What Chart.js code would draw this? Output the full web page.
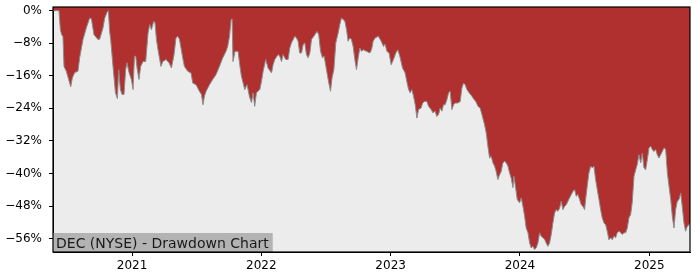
<!DOCTYPE html>
<html>
<head>
<meta charset="utf-8">
<title>DEC (NYSE) - Drawdown Chart</title>
<script src="https://cdn.jsdelivr.net/npm/chart.js@4.4.1/dist/chart.umd.min.js"></script>
<style>
  html, body { margin: 0; padding: 0; background: #ffffff; }
  canvas { display: block; }
</style>
</head>
<body>
<canvas id="ddChart" width="700" height="280"></canvas>
<script>
// Fechas como año decimal y drawdown en %
const years = [
  2020.389, 2020.435, 2020.446, 2020.456, 2020.466, 2020.474, 2020.492, 2020.510, 2020.526, 2020.539,
  2020.557, 2020.582, 2020.595, 2020.621, 2020.647, 2020.673, 2020.686, 2020.706, 2020.737, 2020.750,
  2020.776, 2020.789, 2020.807, 2020.817, 2020.827, 2020.835, 2020.853, 2020.872, 2020.887, 2020.897,
  2020.910, 2020.923, 2020.938, 2020.951, 2020.961, 2020.977, 2020.995, 2021.008, 2021.019, 2021.029,
  2021.039, 2021.054, 2021.067, 2021.085, 2021.106, 2021.124, 2021.137, 2021.150, 2021.168, 2021.178,
  2021.189, 2021.201, 2021.212, 2021.224, 2021.238, 2021.263, 2021.286, 2021.305, 2021.325, 2021.340,
  2021.354, 2021.367, 2021.379, 2021.392, 2021.405, 2021.431, 2021.456, 2021.470, 2021.495, 2021.521,
  2021.537, 2021.549, 2021.560, 2021.573, 2021.599, 2021.624, 2021.650, 2021.676, 2021.702, 2021.727,
  2021.740, 2021.754, 2021.766, 2021.774, 2021.781, 2021.797, 2021.820, 2021.833, 2021.846, 2021.872,
  2021.890, 2021.908, 2021.924, 2021.936, 2021.949, 2021.962, 2021.988, 2022.001, 2022.014, 2022.034,
  2022.052, 2022.079, 2022.091, 2022.104, 2022.130, 2022.143, 2022.156, 2022.168, 2022.189, 2022.207,
  2022.220, 2022.233, 2022.259, 2022.272, 2022.284, 2022.297, 2022.311, 2022.323, 2022.336, 2022.349,
  2022.362, 2022.375, 2022.388, 2022.414, 2022.431, 2022.444, 2022.458, 2022.473, 2022.486, 2022.504,
  2022.522, 2022.535, 2022.547, 2022.561, 2022.576, 2022.594, 2022.607, 2022.620, 2022.633, 2022.646,
  2022.659, 2022.671, 2022.684, 2022.697, 2022.710, 2022.723, 2022.736, 2022.749, 2022.762, 2022.775,
  2022.787, 2022.814, 2022.839, 2022.852, 2022.865, 2022.880, 2022.905, 2022.927, 2022.945, 2022.957,
  2022.971, 2022.988, 2023.004, 2023.022, 2023.040, 2023.056, 2023.074, 2023.092, 2023.112, 2023.125,
  2023.139, 2023.151, 2023.164, 2023.177, 2023.190, 2023.203, 2023.216, 2023.236, 2023.247, 2023.262,
  2023.280, 2023.293, 2023.313, 2023.327, 2023.344, 2023.357, 2023.371, 2023.383, 2023.396, 2023.409,
  2023.422, 2023.435, 2023.448, 2023.460, 2023.474, 2023.487, 2023.499, 2023.520, 2023.538, 2023.551,
  2023.564, 2023.576, 2023.590, 2023.607, 2023.628, 2023.646, 2023.659, 2023.675, 2023.692, 2023.713,
  2023.726, 2023.739, 2023.752, 2023.765, 2023.778, 2023.791, 2023.804, 2023.816, 2023.829, 2023.843,
  2023.855, 2023.868, 2023.881, 2023.894, 2023.907, 2023.920, 2023.932, 2023.946, 2023.953, 2023.963,
  2023.979, 2023.997, 2024.010, 2024.023, 2024.036, 2024.048, 2024.062, 2024.075, 2024.087, 2024.100,
  2024.113, 2024.126, 2024.139, 2024.152, 2024.164, 2024.178, 2024.191, 2024.203, 2024.216, 2024.229,
  2024.242, 2024.255, 2024.268, 2024.281, 2024.294, 2024.307, 2024.319, 2024.332, 2024.345, 2024.358,
  2024.371, 2024.384, 2024.397, 2024.410, 2024.423, 2024.435, 2024.448, 2024.461, 2024.474, 2024.487,
  2024.500, 2024.508, 2024.520, 2024.533, 2024.547, 2024.559, 2024.572, 2024.585, 2024.598, 2024.611,
  2024.624, 2024.636, 2024.650, 2024.663, 2024.675, 2024.688, 2024.701, 2024.714, 2024.727, 2024.740,
  2024.752, 2024.766, 2024.779, 2024.791, 2024.804, 2024.817, 2024.830, 2024.843, 2024.856, 2024.868,
  2024.882, 2024.895, 2024.907, 2024.920, 2024.934, 2024.946, 2024.959, 2024.972, 2024.985, 2024.998,
  2025.011, 2025.023, 2025.036, 2025.050, 2025.062, 2025.075, 2025.088, 2025.101, 2025.114, 2025.127,
  2025.140, 2025.153, 2025.166, 2025.178, 2025.191, 2025.204, 2025.217, 2025.230, 2025.243, 2025.255,
  2025.268, 2025.281, 2025.294, 2025.307, 2025.315
];

const drawdown = [
  0, 0, -4.7, -5.9, -6.4, -13.7, -14.9, -16.9, -18.7, -16.5,
  -15.2, -14.9, -11.6, -7.1, -4.2, -1.8, -2.0, -5.9, -7.1, -7.0,
  -4.2, -1.8, -0.4, 0, -5.1, -7.1, -13.7, -20.2, -21.6, -14.5,
  -19.4, -20.6, -20.6, -14.5, -12.8, -15.2, -16.9, -19.4, -11.2, -11.2,
  -14.1, -16.9, -13.7, -12.5, -12.5, -5.5, -3.4, -4.7, -2.6, -3.0,
  -7.1, -9.6, -11.6, -13.7, -12.5, -12.0, -12.8, -14.1, -10.8, -6.7,
  -6.3, -7.1, -9.2, -11.6, -13.7, -14.9, -15.3, -17.8, -18.2, -19.8,
  -20.6, -23.1, -21.0, -19.8, -18.2, -16.9, -15.7, -13.7, -11.6, -10.0,
  -8.8, -6.3, -2.2, -2.0, -12.5, -10.0, -10.0, -13.3, -16.1, -19.4,
  -18.2, -21.1, -22.6, -20.2, -23.5, -20.2, -19.4, -17.4, -14.9, -12.0,
  -14.1, -15.3, -13.3, -12.0, -10.8, -11.2, -12.5, -10.8, -12.0, -12.0,
  -9.2, -7.9, -6.3, -6.7, -7.5, -10.4, -10.4, -8.4, -7.9, -10.8,
  -11.6, -10.4, -7.1, -5.9, -5.1, -5.9, -10.0, -11.6, -11.2, -14.5,
  -17.8, -19.8, -16.5, -14.5, -7.9, -5.5, -3.4, -1.8, -2.2, -2.6,
  -4.7, -7.5, -6.7, -7.1, -8.8, -12.0, -14.5, -11.6, -9.2, -10.0,
  -9.6, -10.0, -10.4, -9.6, -7.5, -6.7, -6.3, -7.5, -8.8, -8.2,
  -10.0, -10.4, -13.3, -12.0, -10.4, -9.6, -11.6, -14.1, -15.3, -17.4,
  -19.4, -20.2, -19.4, -21.0, -23.1, -26.4, -24.3, -23.9, -22.7, -22.3,
  -22.3, -23.5, -24.3, -25.1, -24.7, -26.0, -25.5, -23.9, -24.7, -23.1,
  -23.1, -21.9, -20.2, -19.8, -24.3, -23.1, -22.7, -22.7, -22.3, -19.0,
  -17.8, -18.2, -19.4, -20.2, -21.0, -21.9, -22.3, -23.5, -23.9, -26.4,
  -28.0, -30.0, -33.3, -36.2, -35.8, -37.4, -38.2, -39.5, -41.5, -40.3,
  -39.5, -37.4, -37.0, -37.4, -38.2, -39.9, -41.1, -43.5, -40.7, -42.7,
  -46.4, -47.2, -46.0, -48.1, -50.5, -53.4, -54.6, -57.1, -58.3, -57.9,
  -58.7, -58.3, -57.1, -54.6, -55.4, -55.8, -56.2, -57.1, -57.9, -57.1,
  -55.0, -52.1, -49.7, -48.9, -49.3, -48.5, -46.8, -48.9, -48.1, -47.7,
  -46.8, -46.0, -45.2, -44.4, -44.0, -45.6, -45.2, -46.4, -47.7, -48.1,
  -48.9, -46.4, -43.2, -39.9, -38.2, -38.6, -38.2, -41.5, -44.0, -46.4,
  -48.9, -50.9, -52.2, -52.6, -54.2, -56.3, -55.8, -56.3, -55.4, -55.8,
  -54.6, -54.2, -54.6, -55.0, -54.6, -54.6, -53.4, -50.9, -50.1, -47.2,
  -40.7, -39.1, -37.8, -35.4, -37.4, -35.0, -38.6, -39.1, -36.6, -33.7,
  -33.3, -34.1, -34.6, -34.1, -35.4, -36.2, -35.4, -34.6, -33.7, -34.1,
  -39.9, -43.2, -46.4, -50.5, -53.4, -48.9, -46.8, -46.4, -44.8, -48.1,
  -52.1, -54.2, -53.0, -52.6, -52.1
];

const yearTicks = [2021, 2022, 2023, 2024, 2025];
const pctTicks = [-56, -48, -40, -32, -24, -16, -8, 0];
const chartTitle = 'DEC (NYSE) - Drawdown Chart';

const FONT = 'DejaVu Sans';

// fondo gris del área, marco y etiqueta
const framePlugin = {
    id: 'frame',
    beforeDraw(chart) {
        const a = chart.chartArea;
        const ctx = chart.ctx;
        ctx.save();
        ctx.fillStyle = '#ececec';
        ctx.fillRect(a.left, a.top, a.right - a.left, a.bottom - a.top);
        ctx.restore();
    },
    afterDraw(chart) {
        const a = chart.chartArea;
        const ctx = chart.ctx;
        ctx.save();
        // etiqueta abajo a la izquierda
        ctx.font = '14px "' + FONT + '"';
        const w = ctx.measureText(chartTitle).width;
        ctx.fillStyle = '#b3b3b3';
        ctx.fillRect(a.left, a.bottom - 19, w + 7, 19);
        ctx.fillStyle = '#1a1a1a';
        ctx.textBaseline = 'alphabetic';
        ctx.fillText(chartTitle, a.left + 3, a.bottom - 4.5);
        // marco
        ctx.strokeStyle = '#000000';
        ctx.lineWidth = 1.2;
        ctx.strokeRect(a.left, a.top, a.right - a.left, a.bottom - a.top);
        ctx.restore();
    }
};

new Chart(document.getElementById('ddChart'), {
    type: 'line',
    data: {
        datasets: [{
            data: years.map((y, i) => ({ x: y, y: drawdown[i] })),
            borderColor: '#8c8c8c',
            borderWidth: 1,
            backgroundColor: '#b03030',
            fill: 'end',
            pointRadius: 0,
            tension: 0
        }]
    },
    options: {
        responsive: false,
        animation: false,
        layout: { padding: { top: 7, right: 10, left: 0, bottom: 0 } },
        plugins: {
            legend: { display: false },
            tooltip: { enabled: false }
        },
        scales: {
            x: {
                type: 'linear',
                min: 2020.389,
                max: 2025.315,
                afterBuildTicks: s => { s.ticks = yearTicks.map(v => ({ value: v })); },
                afterFit: s => {
                    s.height = 28;
                    s.paddingLeft = 0;
                    s.paddingRight = 0;
                },
                grid: { drawOnChartArea: false, drawTicks: true, tickLength: 4, color: '#000000' },
                border: { display: true, color: '#000000' },
                ticks: {
                    color: '#000000',
                    padding: 3,
                    maxRotation: 0,
                    font: { family: FONT, size: 12 },
                    callback: v => String(v)
                }
            },
            y: {
                min: -59.3,
                max: 0.9,
                afterBuildTicks: s => { s.ticks = pctTicks.map(v => ({ value: v })); },
                afterFit: s => {
                    s.width = 53;
                    s.paddingTop = 0;
                    s.paddingBottom = 0;
                },
                grid: { drawOnChartArea: false, drawTicks: true, tickLength: 4, color: '#000000' },
                border: { display: true, color: '#000000' },
                ticks: {
                    color: '#000000',
                    padding: 7,
                    font: { family: FONT, size: 12 },
                    callback: v => (v < 0 ? '\u2212' + Math.abs(v) : v) + '%'
                }
            }
        }
    },
    plugins: [framePlugin]
});
</script>
</body>
</html>
